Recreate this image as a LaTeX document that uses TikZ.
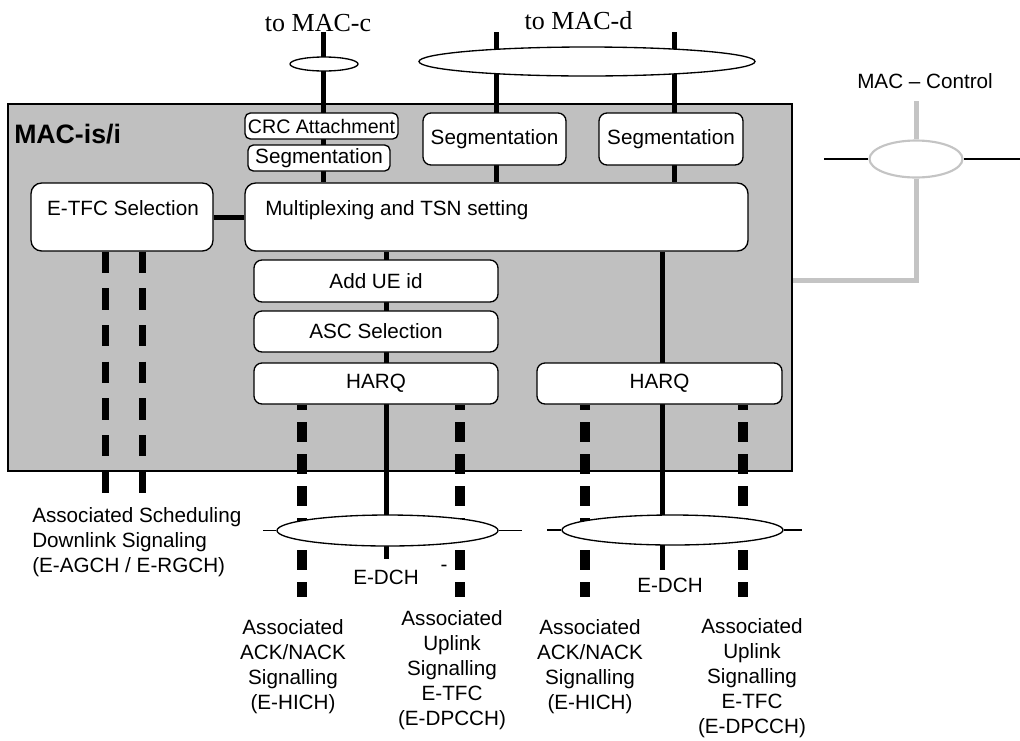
\documentclass[tikz,border=0pt]{standalone}
\usepackage{fontspec}
\setmainfont{Liberation Sans}
\newfontfamily\timesfont{Liberation Serif}
\usetikzlibrary{shapes.geometric}
\definecolor{macgray}{HTML}{C0C0C0}
\definecolor{ctrlgray}{HTML}{C4C4C4}
\pgfdeclarelayer{back}
\pgfdeclarelayer{wires}
\pgfsetlayers{back,wires,main}
\begin{document}
\begin{tikzpicture}[x=0.75pt,y=-0.75pt,
    lbl/.style={font=\fontsize{15.5}{18.75}\selectfont,inner sep=0pt,align=center},
    box/.style={draw,fill=white,line width=1pt,rounded corners=6pt,inner sep=0pt,lbl},
    oval/.style={ellipse,draw,fill=white,line width=1pt,inner sep=0pt},
    chan/.style={line width=3.75pt},
    sig/.style={line width=7.5pt,dash pattern=on 14.6pt off 9.4pt,dash phase=10.9pt},
    sched/.style={line width=5.25pt,dash pattern=on 16pt off 11.5pt},
    ctrl/.style={line width=3.75pt,ctrlgray},
    stub/.style={line width=1.1pt}]
    \useasboundingbox (0,0) rectangle (1020,740);

    % MAC-is/i entity
    \begin{pgfonlayer}{back}
    \node[draw,fill=macgray,line width=1pt,inner sep=0pt,minimum width=588pt,minimum height=275.25pt] (mac) at (400,287.5) {};
    \end{pgfonlayer}
    \node[font=\bfseries\fontsize{20}{23}\selectfont,inner sep=0pt,anchor=west] (title) at (14,134) {MAC-is/i};

    % functional blocks
    \node[box,minimum width=114.75pt,minimum height=19.5pt,rounded corners=4pt,font=\fontsize{14.7}{17}\selectfont] (crc) at (321.5,126) {CRC Attachment};
    \node[box,minimum width=106.5pt,minimum height=19.5pt,rounded corners=4pt] (segc) at (319,158) {Segmentation};
    \node[box,minimum width=107.25pt,minimum height=39pt] (segd1) at (494.5,139) {Segmentation};
    \node[box,minimum width=108pt,minimum height=39pt] (segd2) at (671,139) {Segmentation};
    \node[box,minimum width=136.5pt,minimum height=51pt,rounded corners=8pt] (etfc) at (122,217) {};
    \node[lbl] (etfctext) at (123,208) {E-TFC Selection};
    \node[box,minimum width=377.25pt,minimum height=51pt,rounded corners=8pt] (mux) at (496.5,217) {};
    \node[lbl,anchor=west] (muxtext) at (265,210) {Multiplexing and TSN setting};
    \node[box,minimum width=183pt,minimum height=31.5pt] (ueid) at (376,281) {Add UE id};
    \node[box,minimum width=183pt,minimum height=30.75pt] (asc) at (376,331.5) {ASC Selection};
    \node[box,minimum width=183pt,minimum height=30.75pt] (harq1) at (376,383.5) {HARQ};
    \node[box,minimum width=183.75pt,minimum height=30.75pt] (harq2) at (659.5,383.5) {HARQ};

    % channel ovals
    \node[oval,minimum width=51pt,minimum height=10.5pt] (ovc) at (324,64) {};
    \node[oval,minimum width=252pt,minimum height=21.75pt] (ovd) at (587,61.5) {};
    \node[oval,minimum width=69.75pt,minimum height=27.75pt,draw=ctrlgray,line width=1.6pt] (ovctl) at (916,159) {};
    \node[oval,minimum width=165.75pt,minimum height=23.25pt] (ovl) at (387.5,530.5) {};
    \node[oval,minimum width=165.75pt,minimum height=22.5pt] (ovr) at (672.5,530) {};

    % labels
    \node[lbl,font=\timesfont\fontsize{19.5}{22}\selectfont,anchor=base] (tomacc) at (318,31.5) {to MAC-c};
    \node[lbl,font=\timesfont\fontsize{19.5}{22}\selectfont,anchor=base] (tomacd) at (578.5,29) {to MAC-d};
    \node[lbl] (macctl) at (925,81) {MAC – Control};
    \node[lbl,align=left,anchor=west] (schedtext) at (32,542) {Associated Scheduling\\Downlink Signaling\\(E-AGCH / E-RGCH)};
    \node[lbl] (ack1) at (293,666.5) {Associated\\ACK/NACK\\Signalling\\(E-HICH)};
    \node[lbl] (ul1) at (452,670) {Associated\\Uplink\\Signalling\\E-TFC\\(E-DPCCH)};
    \node[lbl] (ack2) at (590,666.5) {Associated\\ACK/NACK\\Signalling\\(E-HICH)};
    \node[lbl] (ul2) at (752,678) {Associated\\Uplink\\Signalling\\E-TFC\\(E-DPCCH)};
    \node[lbl] (edchl) at (386,577) {E-DCH};
    \node[lbl] (edchr) at (670,585) {E-DCH};
    \node[lbl] (stray) at (444,568) {-};

    % free ends
    \coordinate (cTop) at (323,32);
    \coordinate (d1Top) at (496,32);
    \coordinate (d2Top) at (674,32);
    \coordinate (edch1) at (386,559);
    \coordinate (edch2) at (662,570);
    \coordinate (ctlTop) at (916,101);
    \coordinate (ctlBend) at (916,280);

    \begin{pgfonlayer}{wires}
    % data channels
    \draw[chan] (cTop) -- (cTop |- mux.north);
    \draw[chan] (d1Top) -- (d1Top |- mux.north);
    \draw[chan] (d2Top) -- (d2Top |- mux.north);
    \draw[chan] (edch1 |- mux.south) -- (edch1);
    \draw[chan] (edch2 |- mux.south) -- (edch2);
    \draw[chan] (etfc.east) -- (mux.west);

    % signalling
    \foreach \x in {105,142}
        \draw[sched] (\x,0 |- etfc.south) -- (\x,493);
    \foreach \x in {302,460}
        \draw[sig] (\x,0 |- harq1.south) -- (\x,597);
    \foreach \x in {585,743}
        \draw[sig] (\x,0 |- harq2.south) -- (\x,597);

    % oval stubs
    \draw[stub] (263,530.5) -- (ovl.west);
    \draw[stub] (ovl.east) -- (522,530.5);
    \draw[stub] (547,530) -- (ovr.west);
    \draw[stub] (ovr.east) -- (802,530);
    \draw[stub] (824,159) -- (ovctl.west);
    \draw[stub] (ovctl.east) -- (1020,159);

    % MAC control
    \draw[ctrl] (ctlTop) -- (ovctl.north);
    \draw[ctrl] (ovctl.south) -- (ctlBend) -- (mac.east |- ctlBend);
    \end{pgfonlayer}
\end{tikzpicture}
\end{document}
